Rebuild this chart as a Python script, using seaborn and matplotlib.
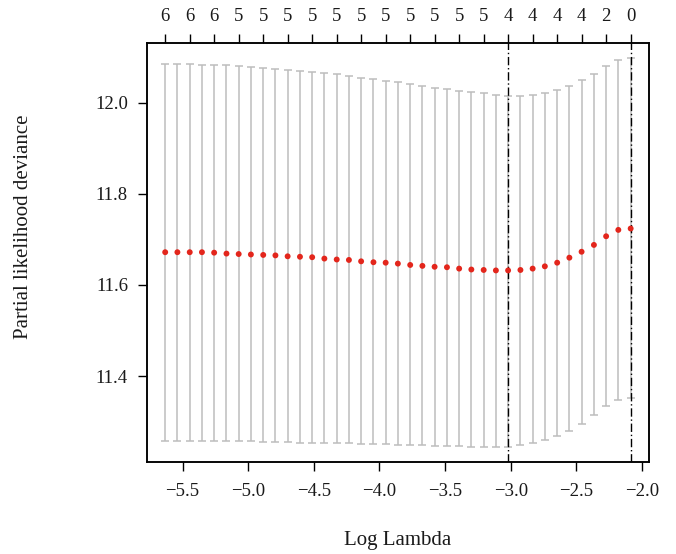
import numpy as np
import pandas as pd
import matplotlib
matplotlib.use("Agg")
import matplotlib.pyplot as plt
import seaborn as sns

# cross-validation curve
log_lambda = [-5.633, -5.540, -5.446, -5.353, -5.260, -5.166, -5.073, -4.980,
              -4.886, -4.793, -4.700, -4.606, -4.513, -4.420, -4.326, -4.233,
              -4.140, -4.046, -3.953, -3.860, -3.766, -3.673, -3.580, -3.486,
              -3.393, -3.300, -3.206, -3.113, -3.020, -2.926, -2.833, -2.740,
              -2.646, -2.553, -2.460, -2.366, -2.273, -2.180, -2.086]

cv_mean = [11.672, 11.672, 11.672, 11.672, 11.671, 11.669, 11.668, 11.667,
           11.666, 11.665, 11.663, 11.662, 11.661, 11.658, 11.656, 11.655,
           11.652, 11.650, 11.649, 11.647, 11.644, 11.642, 11.640, 11.639,
           11.636, 11.634, 11.633, 11.632, 11.632, 11.633, 11.636, 11.641,
           11.649, 11.660, 11.673, 11.688, 11.707, 11.721, 11.724]

cv_upper = [12.085, 12.085, 12.085, 12.084, 12.083, 12.082, 12.081, 12.079,
            12.077, 12.075, 12.072, 12.070, 12.067, 12.065, 12.063, 12.059,
            12.055, 12.052, 12.049, 12.045, 12.041, 12.037, 12.033, 12.030,
            12.026, 12.023, 12.021, 12.018, 12.016, 12.015, 12.018, 12.022,
            12.029, 12.038, 12.050, 12.064, 12.081, 12.094, 12.098]

cv_lower = [11.258, 11.258, 11.258, 11.258, 11.257, 11.257, 11.257, 11.257,
            11.256, 11.256, 11.255, 11.254, 11.254, 11.254, 11.253, 11.252,
            11.251, 11.251, 11.250, 11.249, 11.249, 11.248, 11.247, 11.246,
            11.246, 11.245, 11.245, 11.245, 11.245, 11.249, 11.253, 11.259,
            11.268, 11.280, 11.295, 11.314, 11.334, 11.348, 11.351]

# number of non-zero coefficients (top axis, every second lambda)
nonzero = [6, 6, 6, 5, 5, 5, 5, 5, 5, 5, 5, 5, 5, 5, 4, 4, 4, 4, 2, 0]

log_lambda_min = -3.020
log_lambda_1se = -2.086

x_ticks = [-5.5, -5.0, -4.5, -4.0, -3.5, -3.0, -2.5, -2.0]
y_ticks = [11.4, 11.6, 11.8, 12.0]

df = pd.DataFrame({"log_lambda": log_lambda, "cvm": cv_mean,
                   "cvup": cv_upper, "cvlo": cv_lower})

sns.set_style("ticks")
plt.rcParams["font.family"] = ["Liberation Serif", "DejaVu Serif"]

fig = plt.figure(figsize=(6.76, 5.54), dpi=100)
ax = fig.add_axes([0.217, 0.1666, 0.7435, 0.7563])

ax.errorbar(df["log_lambda"], df["cvm"],
            yerr=[df["cvm"] - df["cvlo"], df["cvup"] - df["cvm"]],
            fmt="none", ecolor="#bdbdbd", elinewidth=1.1,
            capsize=3.2, capthick=1.1, zorder=1)
sns.scatterplot(data=df, x="log_lambda", y="cvm", color="#e3261c",
                s=18, edgecolor="none", ax=ax, zorder=3)

for v in [log_lambda_min, log_lambda_1se]:
    ax.axvline(v, color="black", lw=1.0, linestyle=(0, (6, 2, 1, 2)), zorder=2)

ax.set_xlim(-5.774, -1.944)
ax.set_ylim(11.212, 12.132)
ax.set_xticks(x_ticks)
ax.set_xticklabels([f"{v:.1f}".replace("-", "\u2212") for v in x_ticks])
ax.set_yticks(y_ticks)
ax.set_yticklabels([f"{v:.1f}" for v in y_ticks])
ax.tick_params(axis="both", labelsize=13.5, length=6.5, width=1.0,
               color="black", labelcolor="#1a1a1a", direction="out")
ax.tick_params(axis="x", pad=9)
ax.tick_params(axis="y", pad=7)

ax.set_xlabel("Log Lambda", fontsize=15, color="#1a1a1a")
ax.set_ylabel("Partial likelihood deviance", fontsize=15, color="#1a1a1a")
ax.xaxis.set_label_coords(0.5, -0.165)
ax.yaxis.set_label_coords(-0.226, 0.56)

for s in ax.spines.values():
    s.set_color("black")
    s.set_linewidth(1.1)

top = ax.twiny()
top.set_xlim(ax.get_xlim())
top.set_xticks(log_lambda[::2])
top.set_xticklabels([str(n) for n in nonzero])
top.tick_params(axis="x", labelsize=13.5, length=6.5, width=1.0, pad=6,
                color="black", labelcolor="#1a1a1a")
for s in top.spines.values():
    s.set_color("black")
    s.set_linewidth(1.1)

fig.savefig("out.png", dpi=100)
